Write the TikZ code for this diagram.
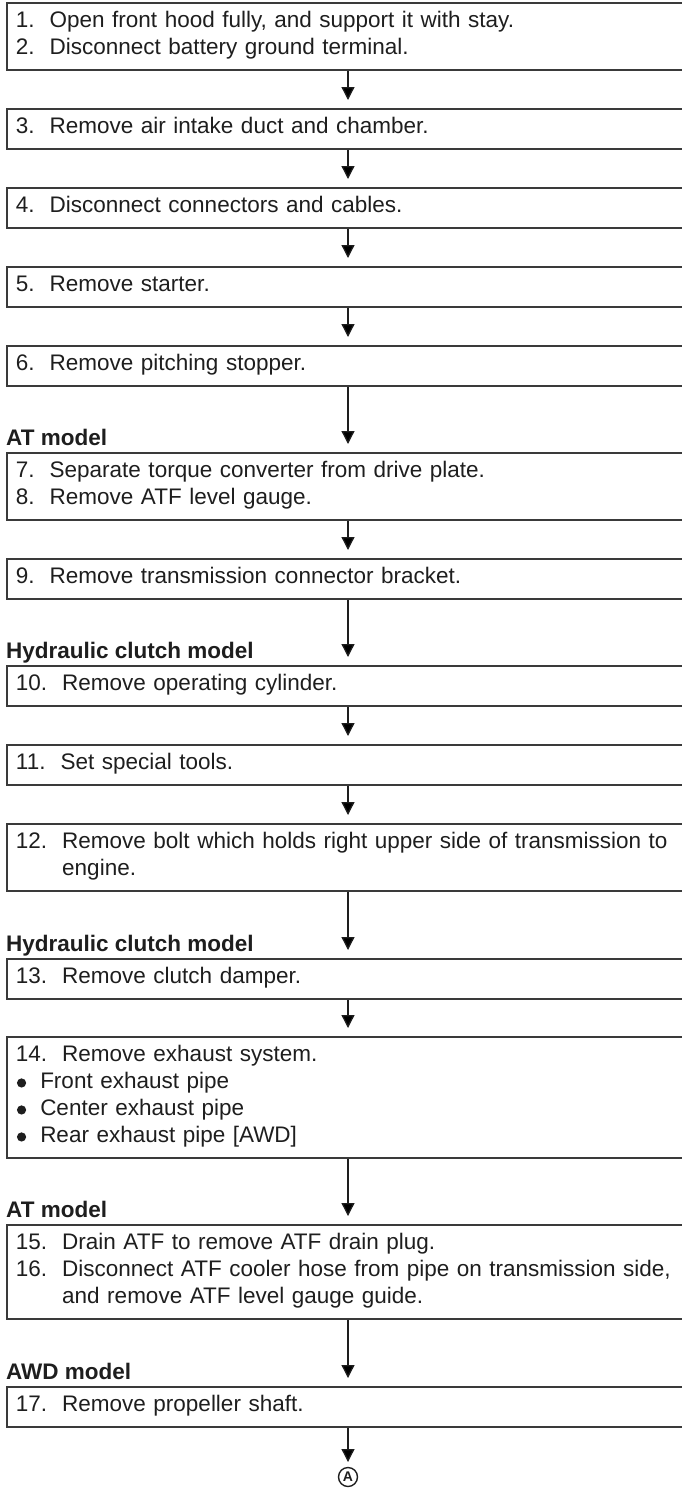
\documentclass[tikz,border=0pt]{standalone}
\usepackage{fontspec}
\setmainfont{Liberation Sans}
\usetikzlibrary{arrows.meta}

\definecolor{ink}{HTML}{1E1E1E}
\definecolor{frame}{HTML}{3A3A3A}

% struts fixing the first baseline and the space under the last line
\newcommand\firststrut{\rule{0pt}{25pt}}
\newcommand\laststrut{\rule[-15pt]{0pt}{15pt}}
% list bullet
\newcommand\bul{\makebox[24.3pt][l]{\hspace{1pt}\tikz[baseline=0pt]\fill (4.6pt,6pt) circle (4.6pt);}}

\tikzset{
  stepbox/.style={draw=frame, line width=1.9pt, anchor=north west,
    inner xsep=9pt, inner ysep=0pt, text width=700pt, align=left,
    text=ink, font=\fontsize{22.5}{27}\selectfont},
  modellabel/.style={anchor=base west, inner sep=0pt, text=ink,
    font=\fontsize{22.5}{27}\selectfont\bfseries},
  flow/.style={draw=ink, line width=1.3pt,
    -{Triangle[length=13pt,width=13pt]}, shorten >=8pt},
}

\begin{document}
\begin{tikzpicture}[x=1pt,y=-1pt]
\path[use as bounding box] (0,0) rectangle (682,1488);
\clip (0,0) rectangle (682,1488);

\coordinate (ax) at (348,0);

% procedure steps
\node[stepbox] (b1) at (6,2) {\firststrut 1.~~Open front hood fully, and support it with stay.\\2.~~Disconnect battery ground terminal.\laststrut};
\node[stepbox] (b3) at (6,108) {\firststrut 3.~~Remove air intake duct and chamber.\laststrut};
\node[stepbox] (b4) at (6,187) {\firststrut 4.~~Disconnect connectors and cables.\laststrut};
\node[stepbox] (b5) at (6,266) {\firststrut 5.~~Remove starter.\laststrut};
\node[stepbox] (b6) at (6,345) {\firststrut 6.~~Remove pitching stopper.\laststrut};
\node[stepbox] (b7) at (6,452) {\firststrut 7.~~Separate torque converter from drive plate.\\8.~~Remove ATF level gauge.\laststrut};
\node[stepbox] (b9) at (6,558) {\firststrut 9.~~Remove transmission connector bracket.\laststrut};
\node[stepbox] (b10) at (6,665) {\firststrut 10.~~Remove operating cylinder.\laststrut};
\node[stepbox] (b11) at (6,744) {\firststrut 11.~~Set special tools.\laststrut};
\node[stepbox] (b12) at (6,823) {\firststrut 12.~~Remove bolt which holds right upper side of transmission to\\\phantom{12.~~}engine.\laststrut};
\node[stepbox] (b13) at (6,958) {\firststrut 13.~~Remove clutch damper.\laststrut};
\node[stepbox] (b14) at (6,1036) {\firststrut 14.~~Remove exhaust system.\\\bul Front exhaust pipe\\\bul Center exhaust pipe\\\bul Rear exhaust pipe [AWD]\laststrut};
\node[stepbox] (b15) at (6,1224) {\firststrut 15.~~Drain ATF to remove ATF drain plug.\\16.~~Disconnect ATF cooler hose from pipe on transmission side,\\\phantom{16.~~}and remove ATF level gauge guide.\laststrut};
\node[stepbox] (b17) at (6,1386) {\firststrut 17.~~Remove propeller shaft.\laststrut};

% model conditions
\node[modellabel] (l7) at ([yshift=7pt]b7.north west) {AT model};
\node[modellabel] (l10) at ([yshift=7pt]b10.north west) {Hydraulic clutch model};
\node[modellabel] (l13) at ([yshift=7pt]b13.north west) {Hydraulic clutch model};
\node[modellabel] (l15) at ([yshift=7pt]b15.north west) {AT model};
\node[modellabel] (l17) at ([yshift=7pt]b17.north west) {AWD model};

% continuation mark
\node[circle, draw=ink, line width=1.4pt, inner sep=0pt, minimum size=19pt,
  text=ink, font=\fontsize{14}{14}\selectfont\bfseries] (endA) at (348,1477) {A};

% flow arrows
\draw[flow] (b1.south -| ax) -- (b3.north -| ax);
\draw[flow] (b3.south -| ax) -- (b4.north -| ax);
\draw[flow] (b4.south -| ax) -- (b5.north -| ax);
\draw[flow] (b5.south -| ax) -- (b6.north -| ax);
\draw[flow] (b6.south -| ax) -- (b7.north -| ax);
\draw[flow] (b7.south -| ax) -- (b9.north -| ax);
\draw[flow] (b9.south -| ax) -- (b10.north -| ax);
\draw[flow] (b10.south -| ax) -- (b11.north -| ax);
\draw[flow] (b11.south -| ax) -- (b12.north -| ax);
\draw[flow] (b12.south -| ax) -- (b13.north -| ax);
\draw[flow] (b13.south -| ax) -- (b14.north -| ax);
\draw[flow] (b14.south -| ax) -- (b15.north -| ax);
\draw[flow] (b15.south -| ax) -- (b17.north -| ax);
\draw[flow, shorten >=15pt] (b17.south -| ax) -- (endA.center);
\end{tikzpicture}
\end{document}
